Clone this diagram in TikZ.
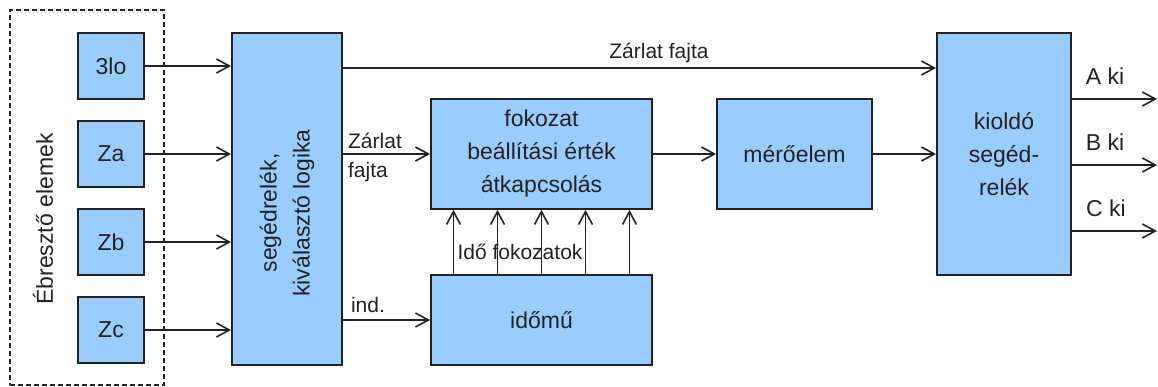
\documentclass[tikz,border=0pt]{standalone}
\usepackage{fontspec}
\setmainfont{Liberation Sans}
\usetikzlibrary{arrows.meta}
\definecolor{blokkkek}{HTML}{99CCFF}
\definecolor{keret}{HTML}{222222}

\tikzset{
    blokk/.style={draw=keret, fill=blokkkek, line width=1.8pt, inner sep=0pt,
        align=center, text=keret, font=\fontsize{23}{33}\selectfont},
    felirat/.style={inner sep=0pt, text=keret, font=\fontsize{21}{25}\selectfont},
    nyil/.style={line width=1.6pt, draw=keret,
        -{Straight Barb[length=13pt,width=14pt,line width=1.6pt]}}
}

\begin{document}
\begin{tikzpicture}[x=1pt,y=-1pt]
    \useasboundingbox (0,0) rectangle (1158,387);

    % Ebreszto elemek
    \node[draw=keret, dash pattern=on 5pt off 3pt, line width=1.3pt, minimum width=154,
        minimum height=375, inner sep=0pt] (ebr) at (87,197.5) {};
    \node[rotate=90, inner sep=0pt, text=keret, font=\fontsize{23}{33}\selectfont]
        (ebrnev) at (43,219) {Ébresztő elemek};
    \node[blokk, minimum width=66, minimum height=66] (z3lo) at (111,66) {3lo};
    \node[blokk, minimum width=66, minimum height=66] (za) at (111,154) {Za};
    \node[blokk, minimum width=66, minimum height=66] (zb) at (111,242) {Zb};
    \node[blokk, minimum width=66, minimum height=66] (zc) at (111,330) {Zc};

    % Blokkok
    \node[blokk, minimum width=110, minimum height=332] (logika) at (287,199) {};
    \node[rotate=90, align=center, inner sep=0pt, text=keret, font=\fontsize{23}{33}\selectfont]
        (logikanev) at (287,213) {segédrelék,\\kiválasztó logika};
    \node[blokk, minimum width=221, minimum height=110] (fokozat) at (541.5,154)
        {fokozat\\beállítási érték\\átkapcsolás};
    \node[blokk, minimum width=221, minimum height=90] (idomu) at (541.5,320) {időmű};
    \node[blokk, minimum width=155, minimum height=110] (mero) at (794.5,154) {mérőelem};
    \node[blokk, minimum width=134, minimum height=242] (kiold) at (1004,154)
        {kioldó\\segéd-\\relék};

    % Bemenetek
    \foreach \z in {z3lo,za,zb,zc}
        \draw[nyil] (\z.east) -- (\z.east -| logika.west);

    % Zarlat fajta
    \coordinate (zf) at (342,68);
    \draw[nyil] (zf) -- (zf -| kiold.west);
    \node[felirat] (zfnev) at (659,53) {Zárlat fajta};
    \draw[nyil] (fokozat.west -| logika.east) -- (fokozat.west);
    \node[felirat] (zfnev2) at (375,141) {Zárlat};
    \node[felirat] (zfnev3) at (368,172) {fajta};
    \draw[nyil] (idomu.west -| logika.east) -- (idomu.west);
    \node[felirat] (indnev) at (368,305) {ind.};

    % Ido fokozatok
    \foreach \d in {-88,-44,0,44,88}
        \draw[nyil] ([xshift=\d pt]idomu.north) -- ([xshift=\d pt]fokozat.south);
    \node[felirat] (idonev) at (520,252) {Idő fokozatok};

    \draw[nyil] (fokozat.east) -- (mero.west);
    \draw[nyil] (mero.east) -- (mero.east -| kiold.west);

    % Kimenetek
    \coordinate (aki) at (1157,99);
    \coordinate (bki) at (1157,165);
    \coordinate (cki) at (1157,231);
    \draw[nyil] (aki -| kiold.east) -- (aki);
    \draw[nyil] (bki -| kiold.east) -- (bki);
    \draw[nyil] (cki -| kiold.east) -- (cki);
    \node[felirat, font=\fontsize{23}{27}\selectfont] (akinev) at (1105,76) {A ki};
    \node[felirat, font=\fontsize{23}{27}\selectfont] (bkinev) at (1105,142) {B ki};
    \node[felirat, font=\fontsize{23}{27}\selectfont] (ckinev) at (1106,208) {C ki};
\end{tikzpicture}
\end{document}
